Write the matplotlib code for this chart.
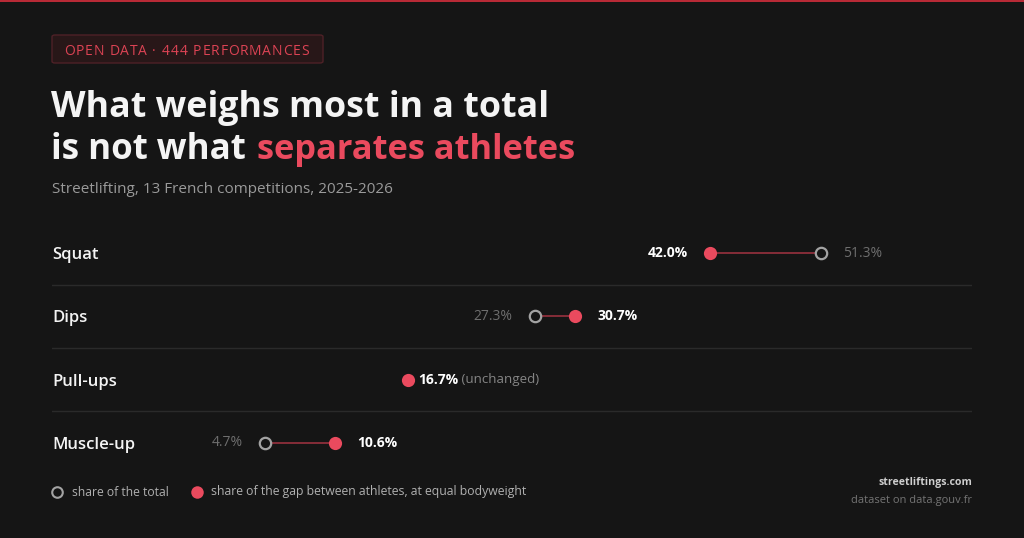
import matplotlib
matplotlib.use("Agg")
import matplotlib.pyplot as plt
from matplotlib.lines import Line2D
from matplotlib.patches import FancyBboxPatch, Rectangle

# ---------------- data ----------------
categories = ["Squat", "Dips", "Pull-ups", "Muscle-up"]
share_total = [51.3, 27.3, 16.7, 4.7]      # share of the total (open circle)
share_gap = [42.0, 30.7, 16.7, 10.6]       # share of the gap between athletes (red dot)

tag_text = "OPEN DATA · 444 PERFORMANCES"
title_l1 = "What weighs most in a total"
title_l2a = "is not what"
title_l2b = "separates athletes"
subtitle = "Streetlifting, 13 French competitions, 2025-2026"
legend_total = "share of the total"
legend_gap = "share of the gap between athletes, at equal bodyweight"
footer_site = "streetliftings.com"
footer_data = "dataset on data.gouv.fr"

# ---------------- style ----------------
W, H = 1024, 538
BG = "#151515"
RED = "#ea4a5e"
LINE_RED = "#8e2f3b"
WHITE = "#f4f4f4"
GRAY_TXT = "#9a9a9a"
DIM = "#6e6e6e"
SEP = "#2a2a2a"
FONT = ["Open Sans", "DejaVu Sans"]

plt.rcParams["font.family"] = FONT

fig = plt.figure(figsize=(W / 100, H / 100), dpi=100, facecolor=BG)


def fx(x):
    return x / W


def fy(y):
    return 1 - y / H


renderer = fig.canvas.get_renderer()


def fit(t, target_px):
    """scale font size so that the text spans target_px wide"""
    for _ in range(3):
        w = t.get_window_extent(renderer).width
        t.set_fontsize(t.get_fontsize() * target_px / w)
    return t


# top accent line
fig.add_artist(Rectangle((0, fy(2)), 1, 2 / H, transform=fig.transFigure,
                         facecolor="#b82a36", edgecolor="none"))

# tag box
fig.add_artist(FancyBboxPatch((fx(52), fy(63)), (323 - 52) / W, 28 / H,
                              boxstyle="round,pad=0,rounding_size=0.003",
                              transform=fig.transFigure, facecolor="#281718",
                              edgecolor="#4e2127", linewidth=1))
# letter-spaced tag text
x = 64.0
spacing = 1.6
chars = []
for ch in tag_text:
    t = fig.text(fx(x), fy(49.5), ch, color="#dc4354", fontsize=10,
                 va="center_baseline", ha="left")
    w = t.get_window_extent(renderer).width
    x += w + spacing
    chars.append(t)
total = x - spacing - 64.0
scale = (308 - 64) / total
x = 64.0
for t in chars:
    t.set_position((fx(x), fy(49.5)))
    x += (t.get_window_extent(renderer).width + spacing) * scale

# title
t1 = fig.text(fx(51), fy(117), title_l1, color=WHITE, fontsize=27,
              fontweight="bold", va="baseline", ha="left")
fit(t1, 497)
t2a = fig.text(fx(51), fy(159), title_l2a, color=WHITE, fontsize=27,
               fontweight="bold", va="baseline", ha="left")
fit(t2a, 194)
t2b = fig.text(fx(257), fy(159), title_l2b, color=RED, fontsize=27,
               fontweight="bold", va="baseline", ha="left")
fit(t2b, 317)

# subtitle
ts = fig.text(fx(52), fy(193), subtitle, color=GRAY_TXT, fontsize=11,
              va="baseline", ha="left")
fit(ts, 341)

# ---------------- main dumbbell axes ----------------
x0_px, k = 209.0, 11.93
left_px, right_px = 52, 972
top_px, bot_px = 221.5, 474.5
ax = fig.add_axes([fx(left_px), fy(bot_px), (right_px - left_px) / W,
                   (bot_px - top_px) / H])
ax.set_facecolor("none")
ax.set_xlim((left_px - x0_px) / k, (right_px - x0_px) / k)
ax.set_ylim(len(categories) - 0.5, -0.5)
ax.axis("off")

for i in range(len(categories) - 1):
    ax.axhline(i + 0.5, color=SEP, linewidth=1, zorder=0)

for i, (cat, tot, gap) in enumerate(zip(categories, share_total, share_gap)):
    ax.annotate(cat, xy=(0, i), xycoords=("axes fraction", "data"),
                xytext=(0, -1.5), textcoords="offset points",
                color=WHITE, fontsize=12, fontweight="semibold",
                va="center", ha="left")
    if tot != gap:
        ax.plot([tot, gap], [i, i], color=LINE_RED, linewidth=1.3, zorder=1)
        ax.plot(tot, i, marker="o", ms=8.2, mfc=BG, mec="#a3a3a3", mew=1.6,
                linestyle="none", zorder=3)
    ax.plot(gap, i, marker="o", ms=9.5, mfc=RED, mec="none",
            linestyle="none", zorder=4)

    off = 16
    if gap < tot:
        ax.annotate(f"{gap:.1f}%", xy=(gap, i), xytext=(-off, 0),
                    textcoords="offset points", color="white", fontsize=10,
                    fontweight="bold", va="center", ha="right")
        ax.annotate(f"{tot:.1f}%", xy=(tot, i), xytext=(off, 0),
                    textcoords="offset points", color=DIM, fontsize=10,
                    va="center", ha="left")
    elif gap > tot:
        ax.annotate(f"{tot:.1f}%", xy=(tot, i), xytext=(-off, 0),
                    textcoords="offset points", color=DIM, fontsize=10,
                    va="center", ha="right")
        ax.annotate(f"{gap:.1f}%", xy=(gap, i), xytext=(off, 0),
                    textcoords="offset points", color="white", fontsize=10,
                    fontweight="bold", va="center", ha="left")
    else:
        tv = ax.annotate(f"{gap:.1f}%", xy=(gap, i), xytext=(7, 0),
                         textcoords="offset points", color="white",
                         fontsize=10, fontweight="bold", va="center",
                         ha="left")
        ax.annotate(" (unchanged)", xy=(1, 0.5), xycoords=tv,
                    color="#858585", fontsize=9.6, va="center", ha="left")

# ---------------- legend ----------------
fig.add_artist(Line2D([fx(57)], [fy(492)], transform=fig.transFigure,
                      marker="o", ms=7.6, mfc=BG, mec="#a3a3a3", mew=1.5,
                      linestyle="none"))
lt = fig.text(fx(72), fy(492), legend_total, color="#b0b0b0", fontsize=9,
              va="center", ha="left")
fit(lt, 96)
fig.add_artist(Line2D([fx(197)], [fy(492)], transform=fig.transFigure,
                      marker="o", ms=9, mfc=RED, mec="none",
                      linestyle="none"))
lg = fig.text(fx(211), fy(492), legend_gap, color="#b0b0b0", fontsize=9,
              va="center", ha="left")
fit(lg, 314)

# footer
f1 = fig.text(fx(972), fy(483), footer_site, color="#cfcfcf", fontsize=9,
              fontweight="bold", va="center", ha="right")
fit(f1, 94)
f2 = fig.text(fx(972), fy(500), footer_data, color="#747474", fontsize=9,
              va="center", ha="right")
fit(f2, 121)

fig.savefig("out.png", dpi=100, facecolor=BG)
